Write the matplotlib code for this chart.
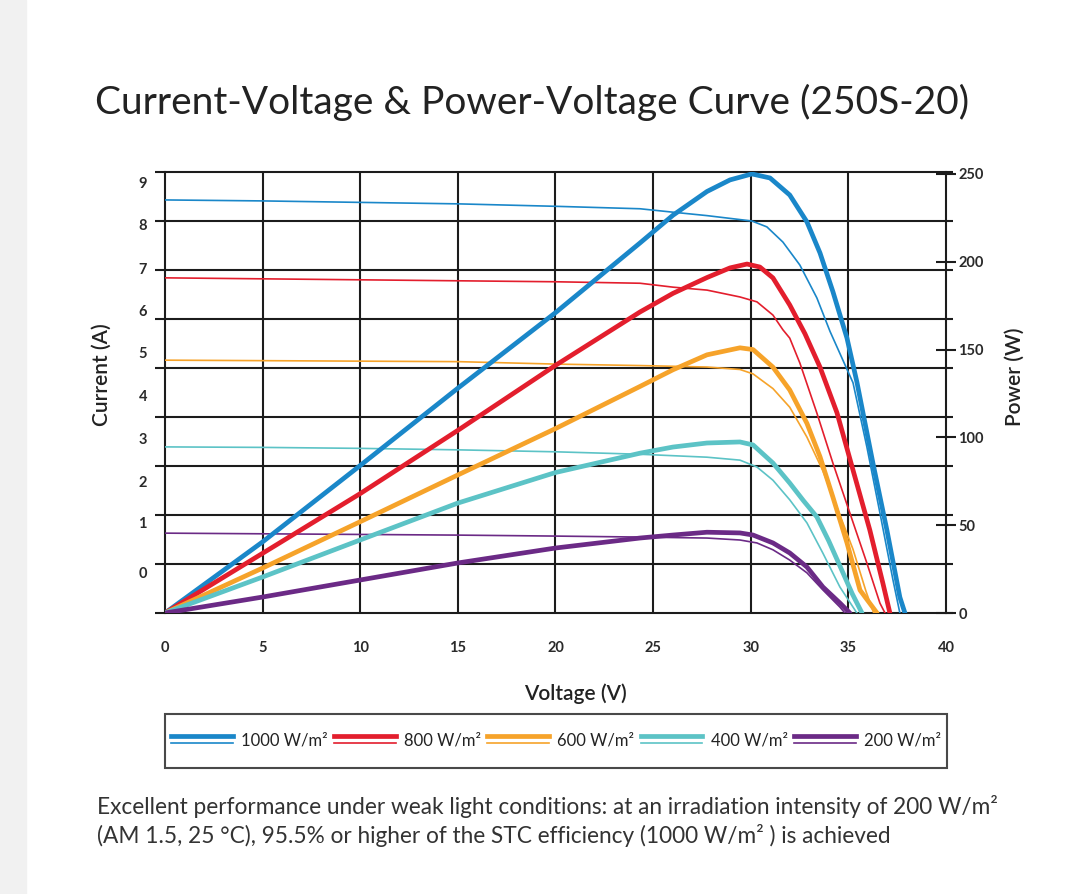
import matplotlib
matplotlib.use("Agg")
import matplotlib.pyplot as plt
from matplotlib.lines import Line2D
from matplotlib.legend_handler import HandlerBase

plt.rcParams['font.family'] = ['Lato', 'DejaVu Sans']

# --- data ---
labels = ['1000 W/m²', '800 W/m²', '600 W/m²', '400 W/m²', '200 W/m²']
colors = ['#1a87c9', '#e31e2d', '#f6a32a', '#5cc3c6', '#6b2a86']

# current-voltage (thin lines), volts / amps
v_i_1000 = [0, 5, 10, 15, 20, 24.33, 26.02, 27.76, 30.06, 30.83, 31.65, 32.52, 33.39, 34.06, 35.24, 35.95, 36.62, 37.29, 37.64]
i_1000 = [8.43, 8.41, 8.38, 8.35, 8.3, 8.25, 8.18, 8.11, 8.0, 7.88, 7.57, 7.1, 6.43, 5.75, 4.7, 3.39, 2.04, 0.67, 0]
v_i_800 = [0, 10, 20, 24.33, 26.02, 27.76, 29.45, 30.32, 31.14, 31.65, 32.0, 32.52, 33.39, 34.21, 35.08, 35.95, 36.62, 36.88]
i_800 = [6.84, 6.8, 6.76, 6.73, 6.65, 6.59, 6.45, 6.35, 6.08, 5.78, 5.61, 5.1, 4.08, 3.06, 2.04, 1.02, 0.2, 0]
v_i_600 = [0, 15, 20, 24.33, 27.76, 29.45, 30.12, 31.14, 32.0, 32.88, 33.7, 34.57, 35.24, 35.9, 36.3]
i_600 = [5.16, 5.13, 5.08, 5.05, 5.02, 4.97, 4.88, 4.58, 4.2, 3.59, 2.9, 2.0, 1.3, 0.45, 0]
v_i_400 = [0, 5, 10, 15, 20, 24.33, 27.76, 29.45, 30.32, 31.14, 32.0, 32.88, 33.7, 34.57, 35.44]
i_400 = [3.39, 3.38, 3.36, 3.33, 3.29, 3.24, 3.18, 3.12, 2.98, 2.71, 2.31, 1.84, 1.22, 0.53, 0]
v_i_200 = [0, 15, 20, 24.33, 27.76, 29.45, 30.32, 31.14, 32.0, 32.88, 33.7, 34.57, 34.83]
i_200 = [1.63, 1.59, 1.57, 1.55, 1.53, 1.49, 1.43, 1.29, 1.08, 0.82, 0.47, 0.12, 0]

# power-voltage (thick lines), volts / watts
v_p_1000 = [0, 5, 10, 15, 20, 24.33, 26.02, 27.76, 28.94, 30.06, 30.99, 32.0, 32.88, 33.55, 34.21, 34.93, 35.44, 36.26, 36.98, 37.64, 37.9]
p_1000 = [0, 40.5, 84, 128, 171, 210.7, 226.5, 240, 246.6, 250, 247.7, 238, 222.7, 205, 183, 156.6, 131.5, 85.4, 47, 9, 0]
v_p_800 = [0, 5, 10, 15, 20, 24.33, 26.02, 27.76, 28.94, 29.81, 30.47, 31.14, 32.0, 32.78, 33.55, 34.42, 35.24, 36.1, 36.77, 37.13]
p_800 = [0, 34, 68, 104, 141, 171.4, 182, 191, 196.5, 198.7, 197, 190.8, 175.4, 159, 140, 114, 81.4, 47.3, 17, 0]
v_p_600 = [0, 5, 10, 15, 20, 24.33, 26.02, 27.76, 29.45, 30.12, 31.14, 32.0, 32.88, 33.55, 34.21, 34.93, 35.6, 36.47]
p_600 = [0, 25.6, 52, 78.6, 105, 129, 138.5, 147, 151, 150, 140, 127, 108, 89, 66, 40, 13, 0]
v_p_400 = [0, 5, 10, 15, 20, 24.33, 26.02, 27.76, 29.45, 30.12, 31.14, 32.0, 32.7, 33.39, 34.0, 34.57, 35.2, 35.7]
p_400 = [0, 20.5, 41.6, 62.6, 80, 91, 94.5, 96.8, 97.4, 95.7, 85.4, 74, 64, 54.7, 41, 26.8, 11, 0]
v_p_200 = [0, 5, 10, 15, 20, 24.33, 26.02, 27.76, 29.45, 30.12, 31.14, 32.0, 32.88, 33.7, 34.57, 35.08]
p_200 = [0, 9.1, 18.8, 28.5, 37, 42.7, 44.4, 46, 45.6, 44.4, 39.9, 34.2, 26.2, 14.8, 5.7, 0]

iv_curves = [(v_i_1000, i_1000), (v_i_800, i_800), (v_i_600, i_600), (v_i_400, i_400), (v_i_200, i_200)]
pv_curves = [(v_p_1000, p_1000), (v_p_800, p_800), (v_p_600, p_600), (v_p_400, p_400), (v_p_200, p_200)]

volt_ticks = [0, 5, 10, 15, 20, 25, 30, 35, 40]
power_ticks = [0, 50, 100, 150, 200, 250]
current_tick_text = ['0', '1', '2', '3', '4', '5', '6', '7', '8', '9']
# the printed current labels sit off the grid lines in the original
current_label_pos = [0.82, 1.84, 2.69, 3.57, 4.43, 5.31, 6.18, 7.04, 7.92, 8.78]


class DoubleLine(HandlerBase):
    # thick P line over thin I line, like the datasheet legend
    def create_artists(self, legend, orig_handle, xdescent, ydescent,
                       width, height, fontsize, trans):
        c = orig_handle.get_color()
        x = [-xdescent, width - xdescent]
        yc = 0.36 * fontsize
        top = Line2D(x, [yc + 3.0] * 2, color=c, lw=3.4, transform=trans)
        bot = Line2D(x, [yc - 2.4] * 2, color=c, lw=1.2, transform=trans)
        return [top, bot]


fig = plt.figure(figsize=(10.72, 8.94), dpi=100)
fig.patches.append(plt.Rectangle((0, 0), 0.024, 1, transform=fig.transFigure,
                                 color='#f1f1f1', zorder=0))

ax = fig.add_axes([0.1539, 0.3143, 0.7285, 0.4933])
ax2 = ax.twinx()

ax.set_xlim(0, 40)
ax.set_ylim(0, 9)
ax2.set_ylim(0, 251.1)

# grid
grid_c = '#1c1c1c'
ax.hlines(range(10), -0.013, 1.009, transform=ax.get_yaxis_transform(),
          color=grid_c, lw=1.5, clip_on=False, zorder=1)
ax.vlines(volt_ticks[1:-1], 0, 9, color=grid_c, lw=1.5, zorder=1)

for (v, i), c in zip(iv_curves, colors):
    ax.plot(v, i, color=c, lw=1.2, zorder=3)

handles = []
for (v, p), c, lab in zip(pv_curves, colors, labels):
    h, = ax2.plot(v, p, color=c, lw=3.4, solid_capstyle='round',
                  solid_joinstyle='round', label=lab, zorder=3)
    handles.append(h)

for s in ['top', 'bottom']:
    ax.spines[s].set_visible(False)
    ax2.spines[s].set_visible(False)
ax2.spines['left'].set_visible(False)
ax.spines['left'].set_linewidth(1.5)
ax.spines['left'].set_color(grid_c)
ax2.spines['right'].set_linewidth(1.5)
ax2.spines['right'].set_color(grid_c)
ax.spines['right'].set_visible(False)

tick_font = dict(fontsize=10.5, fontweight='bold', color='#2a2a2a')

# x axis
ax.set_xticks(volt_ticks)
ax.set_xticklabels([str(t) for t in volt_ticks], **tick_font)
ax.tick_params(axis='x', which='major', length=0, pad=20)
ax.set_xticks([0, 40], minor=True)
ax.tick_params(axis='x', which='minor', length=7.5, width=1.5, color=grid_c, direction='out')

# left axis: grid lines carry no labels, labels sit on their own ticks
ax.set_yticks(range(10))
ax.set_yticklabels([])
ax.tick_params(axis='y', which='major', length=0)
ax.set_yticks(current_label_pos, minor=True)
ax.set_yticklabels(current_tick_text, minor=True, **tick_font)
ax.tick_params(axis='y', which='minor', length=0, pad=13)

# right axis
ax2.set_yticks(power_ticks)
ax2.set_yticklabels([str(t) for t in power_ticks], **tick_font)
ax2.tick_params(axis='y', direction='inout', length=14, width=1.5, color=grid_c, pad=2)

label_font = dict(fontsize=15, fontweight='semibold', color='#222222')
ax.set_xlabel('Voltage (V)', **label_font)
ax.xaxis.set_label_coords(0.526, -0.16)
ax.set_ylabel('Current (A)', **label_font)
ax.yaxis.set_label_coords(-0.068, 0.54)
ax2.set_ylabel('Power (W)', rotation=90, **label_font)
ax2.yaxis.set_label_coords(1.0755, 0.535)

fig.text(95 / 1072, 1 - 102 / 894, 'Current-Voltage & Power-Voltage Curve (250S-20)',
         fontsize=28, color='#222222', ha='left', va='center')

leg = fig.legend(handles=handles, labels=labels, handler_map={Line2D: DoubleLine()},
                 loc='center', ncol=5, mode='expand',
                 bbox_to_anchor=(157 / 1072, 1 - 770 / 894, 798 / 1072, 58 / 894),
                 prop=dict(size=12), handlelength=3.7, handleheight=3.5,
                 handletextpad=0.5, columnspacing=0.3,
                 borderpad=0.35, fancybox=False, frameon=True, edgecolor='#1c1c1c')
leg.get_frame().set_linewidth(1.5)
for t in leg.get_texts():
    t.set_color('#222222')

fig.text(97 / 1072, 1 - 821 / 894,
         'Excellent performance under weak light conditions: at an irradiation intensity of 200 W/m²\n'
         '(AM 1.5, 25 °C), 95.5% or higher of the STC efficiency (1000 W/m² ) is achieved',
         fontsize=16.3, color='#333333', ha='left', va='center', linespacing=1.3)

fig.savefig('out.png', dpi=100)
